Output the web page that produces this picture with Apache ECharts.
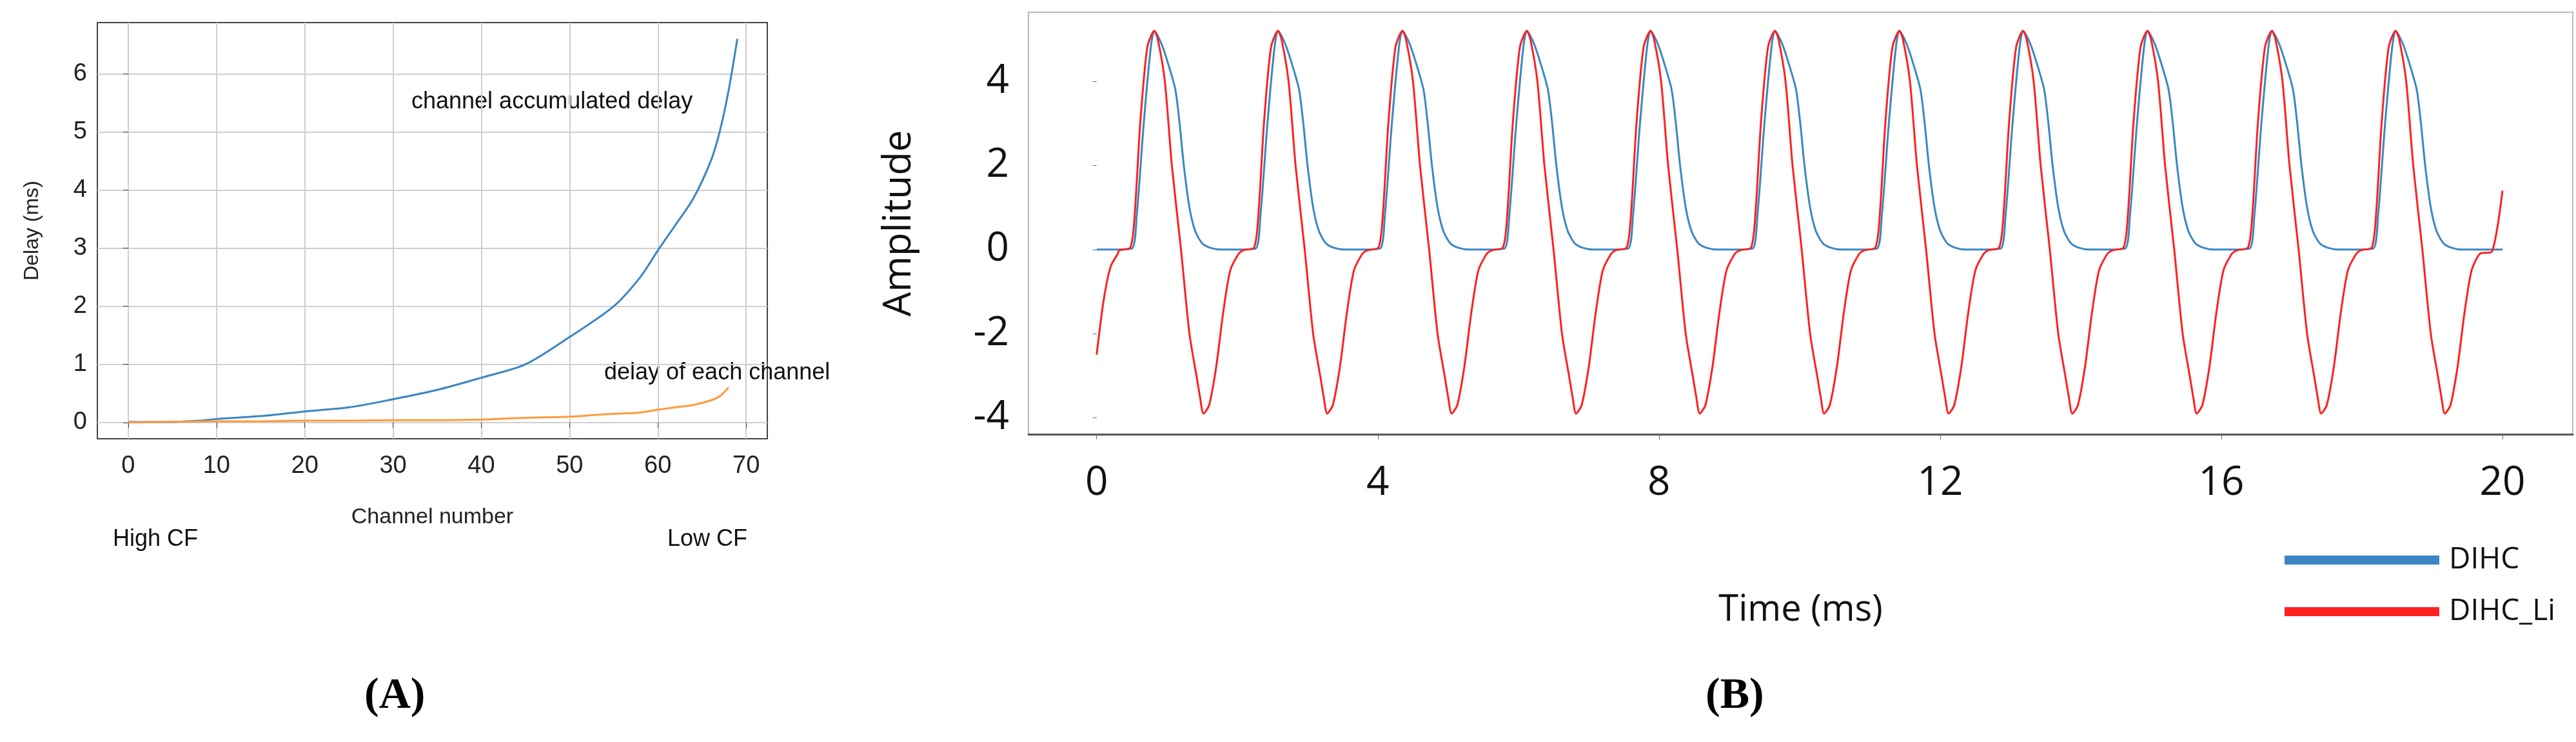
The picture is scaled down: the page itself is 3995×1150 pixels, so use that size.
<!DOCTYPE html>
<html>
<head>
<meta charset="utf-8">
<script src="https://cdn.jsdelivr.net/npm/echarts@6/dist/echarts.min.js"></script>
<style>html,body{margin:0;padding:0;background:#fff}#main{width:3995px;height:1150px}</style>
</head>
<body>
<div id="main"></div>
<script>
// (A) delay per channel
let accumDelay = [[0, 0.01], [5, 0.01], [8, 0.03], [10, 0.06], [15, 0.11], [20, 0.19], [25, 0.26], [30, 0.4], [35, 0.56], [40, 0.77],
    [45, 1.0], [50, 1.47], [55, 2.0], [58, 2.5], [60, 2.96], [62, 3.4], [64, 3.85], [66, 4.5], [67, 5.0], [68, 5.7], [69, 6.6]];
let eachDelay = [[0, 0.0], [10, 0.02], [15, 0.02], [20, 0.03], [25, 0.03], [30, 0.04], [35, 0.04], [40, 0.05], [45, 0.08], [50, 0.1],
    [53, 0.13], [55, 0.15], [58, 0.17], [60, 0.22], [62, 0.26], [64, 0.3], [66, 0.38], [67, 0.45], [68, 0.6]];

// (B) one period of each waveform, read relative to its peak (ms, amplitude)
let peakTimes = [0.82, 2.58, 4.35, 6.12, 7.88, 9.65, 11.42, 13.18, 14.95, 16.72, 18.48];
let dihcCycle = [[-0.6, 0], [-0.32, 0.02], [-0.25, 0.8], [-0.15, 3.0], [-0.05, 4.8], [0, 5.2], [0.1, 4.9], [0.2, 4.4],
    [0.3, 3.8], [0.36, 3.0], [0.42, 2.0], [0.5, 1.0], [0.58, 0.45], [0.68, 0.15], [0.8, 0.04], [0.95, 0]];
let dihcLiCycle = [[-0.5, -0.02], [-0.34, 0.05], [-0.28, 0.8], [-0.2, 3.0], [-0.1, 4.8], [0, 5.2], [0.05, 5.0], [0.15, 4.0],
    [0.25, 2.0], [0.38, 0], [0.5, -2.0], [0.6, -3.0], [0.65, -3.5], [0.7, -3.9], [0.78, -3.7], [0.88, -2.8],
    [0.98, -1.5], [1.08, -0.5], [1.2, -0.1]];
let dihcStart = [[0, 0]];
let dihcEnd = [[20, 0]];
let dihcLiStart = [[0, -2.5], [0.1, -1.2], [0.2, -0.4], [0.3, -0.1]];
let dihcLiEnd = [[19.85, -0.05], [20, 1.4]];

function buildWave(start, cycle, end) {
    let out = start.slice();
    for (let i = 0; i < peakTimes.length; i++) {
        for (let j = 0; j < cycle.length; j++) {
            out.push([+(peakTimes[i] + cycle[j][0]).toFixed(3), cycle[j][1]]);
        }
    }
    return out.concat(end);
}
let dihc = buildWave(dihcStart, dihcCycle, dihcEnd);
let dihcLi = buildWave(dihcLiStart, dihcLiCycle, dihcLiEnd);

let chart = echarts.init(document.getElementById('main'));
let fA = 'Liberation Sans';
let fB = 'Open Sans';
chart.setOption({
    animation: false,
    grid: [
        {left: 151, top: 35, width: 1039, height: 645, show: true, borderColor: '#444', borderWidth: 2},
        {left: 1595, top: 19, width: 2395, height: 654, show: true, borderColor: '#bbb', borderWidth: 2}
    ],
    xAxis: [
        {gridIndex: 0, type: 'value', min: -3.5, max: 72.4, interval: 10,
            axisLabel: {fontFamily: fA, fontSize: 38, color: '#222', margin: 24,
                customValues: [0, 10, 20, 30, 40, 50, 60, 70]},
            axisTick: {customValues: [0, 10, 20, 30, 40, 50, 60, 70], length: 8, lineStyle: {color: '#444'}},
            splitLine: {show: true, lineStyle: {color: '#cfcfcf', width: 2}},
            axisLine: {show: false},
            name: 'Channel number', nameLocation: 'middle', nameGap: 105,
            nameTextStyle: {fontFamily: fA, fontSize: 34, color: '#222'}},
        {gridIndex: 1, type: 'value', min: -0.97, max: 21, interval: 4,
            axisLabel: {fontFamily: fB, fontSize: 62, color: '#111', margin: 45,
                customValues: [0, 4, 8, 12, 16, 20]},
            axisTick: {customValues: [0, 4, 8, 12, 16, 20], length: 8, lineStyle: {color: '#666'}},
            splitLine: {show: false},
            axisLine: {show: true, onZero: false, lineStyle: {color: '#555', width: 3}},
            name: 'Time (ms)', nameLocation: 'middle', nameGap: 245,
            nameTextStyle: {fontFamily: fB, fontSize: 56, color: '#111'}}
    ],
    yAxis: [
        {gridIndex: 0, type: 'value', min: -0.28, max: 6.88, interval: 1,
            axisLabel: {fontFamily: fA, fontSize: 38, color: '#222', margin: 16,
                customValues: [0, 1, 2, 3, 4, 5, 6]},
            axisTick: {show: true, customValues: [0, 1, 2, 3, 4, 5, 6], length: 8, lineStyle: {color: '#444'}},
            splitLine: {show: true, lineStyle: {color: '#cfcfcf', width: 2}},
            axisLine: {show: false},
            name: 'Delay (ms)', nameLocation: 'middle', nameGap: 85,
            nameTextStyle: {fontFamily: fA, fontSize: 32, color: '#222'}},
        {gridIndex: 1, type: 'value', min: -4.39, max: 5.64, interval: 2,
            axisLabel: {fontFamily: fB, fontSize: 62, color: '#111', margin: 30,
                customValues: [-4, -2, 0, 2, 4]},
            axisTick: {show: true, customValues: [-4, -2, 0, 2, 4], length: 6, lineStyle: {color: '#666'}},
            splitLine: {show: false},
            axisLine: {show: false},
            name: 'Amplitude', nameLocation: 'middle', nameGap: 170,
            nameTextStyle: {fontFamily: fB, fontSize: 60, color: '#111'}}
    ],
    legend: {
        data: ['DIHC', 'DIHC_Li'], orient: 'vertical', left: 3538, top: 840,
        itemWidth: 240, itemHeight: 14, itemGap: 34, icon: 'rect',
        textStyle: {fontFamily: fB, fontSize: 46, color: '#111', padding: [0, 0, 0, 10]}
    },
    graphic: [
        {type: 'text', left: 638, top: 140, style: {text: 'channel accumulated delay', font: '36px "Liberation Sans"', fill: '#111'}},
        {type: 'text', left: 937, top: 560, style: {text: 'delay of each channel', font: '36px "Liberation Sans"', fill: '#111'}},
        {type: 'text', left: 175, top: 818, style: {text: 'High CF', font: '36px "Liberation Sans"', fill: '#111'}},
        {type: 'text', left: 1035, top: 818, style: {text: 'Low CF', font: '36px "Liberation Sans"', fill: '#111'}},
        {type: 'text', left: 565, top: 1045, style: {text: '(A)', font: 'bold 68px "Liberation Serif"', fill: '#000'}},
        {type: 'text', left: 2645, top: 1045, style: {text: '(B)', font: 'bold 68px "Liberation Serif"', fill: '#000'}}
    ],
    series: [
        {name: 'accumulated', type: 'line', xAxisIndex: 0, yAxisIndex: 0, data: accumDelay, smooth: 0.3,
            showSymbol: false, lineStyle: {color: '#3a86c2', width: 3}},
        {name: 'each', type: 'line', xAxisIndex: 0, yAxisIndex: 0, data: eachDelay, smooth: 0.3,
            showSymbol: false, lineStyle: {color: '#ff9a3c', width: 3}},
        {name: 'DIHC', type: 'line', xAxisIndex: 1, yAxisIndex: 1, data: dihc, smooth: 0.25,
            showSymbol: false, color: '#3a87c4', lineStyle: {color: '#3a87c4', width: 3}},
        {name: 'DIHC_Li', type: 'line', xAxisIndex: 1, yAxisIndex: 1, data: dihcLi, smooth: 0.25,
            showSymbol: false, color: '#ff2020', lineStyle: {color: '#ff2020', width: 3}}
    ]
});
</script>
</body>
</html>
